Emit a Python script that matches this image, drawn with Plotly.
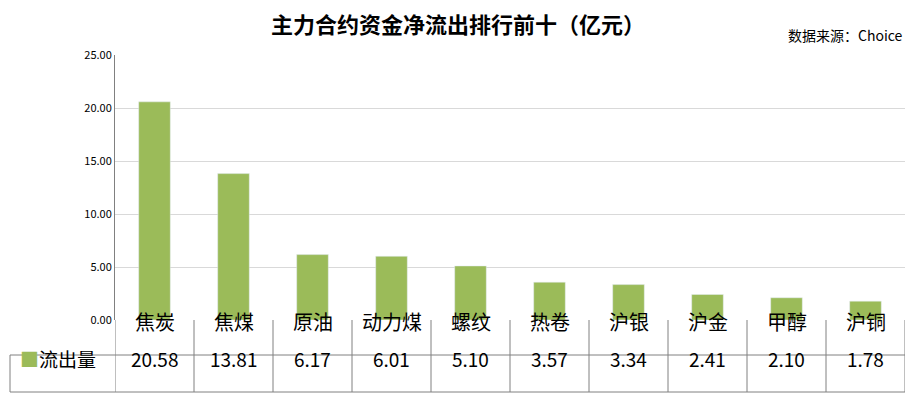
import plotly.graph_objects as go

categories = ["焦炭", "焦煤", "原油", "动力煤", "螺纹", "热卷", "沪银", "沪金", "甲醇", "沪铜"]
outflow = [20.58, 13.81, 6.17, 6.01, 5.10, 3.57, 3.34, 2.41, 2.10, 1.78]
series_name = "流出量"

bar_color = "#9bbb59"
line_color = "#808080"
font = "Noto Sans CJK SC"

# plot area: 790 px wide, 265 px tall (page body adds an 8px offset)
row1 = -35 / 265
row2 = -72 / 265
left_col = -105 / 790

fig = go.Figure(go.Bar(x=list(range(len(categories))), y=outflow,
                       marker_color=bar_color, width=0.4, name=series_name))

shapes = []
shapes.append(dict(type="line", xref="paper", yref="paper", x0=left_col, x1=1, y0=row1, y1=row1,
                   line=dict(color=line_color, width=1)))
shapes.append(dict(type="line", xref="paper", yref="paper", x0=left_col, x1=1, y0=row2, y1=row2,
                   line=dict(color=line_color, width=1)))
shapes.append(dict(type="line", xref="paper", yref="paper", x0=left_col, x1=left_col, y0=row1, y1=row2,
                   line=dict(color=line_color, width=1)))
for i in range(len(categories) + 1):
    shapes.append(dict(type="line", xref="x", yref="paper", x0=i - 0.5, x1=i - 0.5, y0=0, y1=row2,
                       line=dict(color=line_color, width=1)))

annotations = []
for i, (c, v) in enumerate(zip(categories, outflow)):
    annotations.append(dict(x=i, y=row1 / 2, xref="x", yref="paper", text=c, showarrow=False,
                            font=dict(size=20, color="black", family=font)))
    annotations.append(dict(x=i, y=(row1 + row2) / 2, xref="x", yref="paper", text=f"{v:.2f}",
                            showarrow=False, font=dict(size=19, color="black", family=font)))
annotations.append(dict(x=left_col + 0.01, y=(row1 + row2) / 2, xref="paper", yref="paper",
                        xanchor="left", showarrow=False,
                        text=f"<span style='color:{bar_color}'>■</span>{series_name}",
                        font=dict(size=19, color="black", family=font)))
annotations.append(dict(x=1, y=1.03, xref="paper", yref="paper", xanchor="right", yanchor="bottom",
                        showarrow=False, text="数据来源：Choice",
                        font=dict(size=14, color="black", family=font)))

fig.update_layout(
    width=900, height=390,
    margin=dict(l=107, r=3, t=47, b=78),
    paper_bgcolor="white", plot_bgcolor="white",
    showlegend=False,
    title=dict(text="<b>主力合约资金净流出排行前十（亿元）</b>", x=0.5, xanchor="center",
               y=0.975, font=dict(size=22, color="black", family=font)),
    font=dict(family=font),
    xaxis=dict(range=[-0.5, len(categories) - 0.5], showticklabels=False, showgrid=False,
               zeroline=False, showline=False, ticks=""),
    yaxis=dict(range=[0, 25], dtick=5, tickformat=".2f", showgrid=True, gridcolor="#d9d9d9",
               zeroline=False, showline=True, linecolor=line_color,
               tickfont=dict(size=11, color="black")),
    shapes=shapes,
    annotations=annotations,
)

fig.write_html("out.html")
